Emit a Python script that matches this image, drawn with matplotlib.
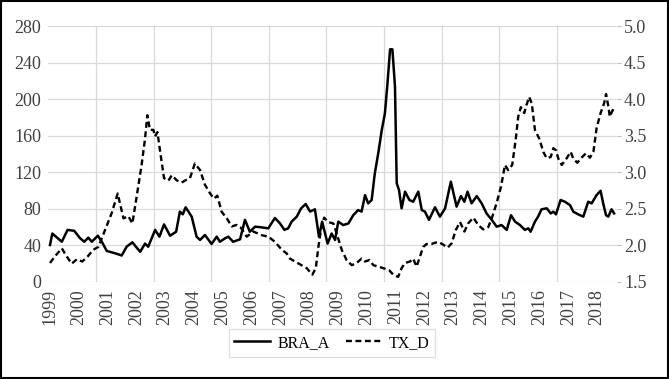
import matplotlib.pyplot as plt
from matplotlib.patches import Rectangle
import numpy as np

# Data (fractional years)
bra_years = [1999.00, 1999.08, 1999.41, 1999.61, 1999.84, 2000.04, 2000.19, 2000.33, 2000.45,
             2000.66, 2000.80, 2000.97, 2001.26, 2001.49, 2001.66, 2001.86, 2002.13, 2002.30,
             2002.41, 2002.65, 2002.80, 2002.96, 2003.17, 2003.38, 2003.51, 2003.61, 2003.71,
             2003.92, 2004.09, 2004.21, 2004.38, 2004.61, 2004.79, 2004.90, 2005.08, 2005.19,
             2005.36, 2005.60, 2005.77, 2005.94, 2006.12, 2006.29, 2006.58, 2006.81, 2006.99,
             2007.14, 2007.27, 2007.39, 2007.57, 2007.72, 2007.88, 2008.03, 2008.20, 2008.34,
             2008.45, 2008.64, 2008.78, 2008.90, 2009.01, 2009.18, 2009.36, 2009.53, 2009.70,
             2009.82, 2009.94, 2010.05, 2010.17, 2010.28, 2010.40, 2010.52, 2010.63, 2010.71,
             2010.81, 2010.89, 2010.98, 2011.04, 2011.12, 2011.21, 2011.33, 2011.48, 2011.61,
             2011.79, 2011.91, 2012.02, 2012.16, 2012.37, 2012.54, 2012.72, 2012.92, 2013.12,
             2013.27, 2013.39, 2013.50, 2013.64, 2013.82, 2013.99, 2014.16, 2014.34, 2014.51,
             2014.68, 2014.86, 2015.01, 2015.15, 2015.32, 2015.49, 2015.61, 2015.69, 2015.84,
             2015.95, 2016.07, 2016.25, 2016.39, 2016.48, 2016.57, 2016.73, 2016.88, 2017.06,
             2017.17, 2017.34, 2017.52, 2017.69, 2017.81, 2017.98, 2018.12, 2018.21, 2018.31,
             2018.39, 2018.50, 2018.59]
bra_a = [40.5, 53, 44, 57, 56, 48, 44, 48.5, 44,
         50.6, 44, 34, 31.4, 29, 38.6, 43.4, 33, 42,
         38.6, 57, 49.6, 63, 50.6, 55, 77, 74, 81.7,
         71.5, 49.6, 46, 51.4, 41.6, 49.6, 44, 47.8, 49.6,
         44, 46.7, 68, 55, 60.5, 60, 58.7, 70, 64,
         57, 58.7, 66, 71.5, 80.6, 85.3, 77, 79.5, 49.6,
         66, 42, 53, 46, 66, 62.3, 64, 73, 78.7,
         77, 95, 86, 89.7, 119, 141, 166, 184.5, 213.6,
         254.5, 254.5, 213.6, 108, 100.6, 80.6, 98.8, 89.7, 87.8,
         98.8, 78.7, 77, 68, 81.7, 71.5, 80.6, 109.7, 82.4,
         94, 87.8, 98.8, 86, 94, 86, 75, 68, 60.5,
         62.3, 57, 73, 66, 62.3, 57, 58.7, 55, 66,
         71.5, 79.5, 80.6, 75, 77, 74, 89.7, 87.8, 84,
         77, 74, 71.5, 87.8, 86, 95, 99.8, 86, 73,
         71.5, 79.5, 75]

tx_years = [1999.00, 1999.17, 1999.41, 1999.58, 1999.75, 1999.93, 2000.12, 2000.31, 2000.50,
            2000.68, 2000.91, 2001.14, 2001.35, 2001.55, 2001.72, 2001.86, 2002.01, 2002.18,
            2002.30, 2002.38, 2002.47, 2002.59, 2002.65, 2002.73, 2002.84, 2002.96, 2003.11,
            2003.23, 2003.40, 2003.57, 2003.75, 2003.86, 2004.03, 2004.21, 2004.38, 2004.56,
            2004.69, 2004.81, 2004.96, 2005.14, 2005.31, 2005.48, 2005.63, 2005.83, 2006.06,
            2006.35, 2006.58, 2006.81, 2007.05, 2007.22, 2007.33, 2007.51, 2007.74, 2007.91,
            2008.11, 2008.23, 2008.32, 2008.41, 2008.52, 2008.66, 2008.84, 2008.95, 2009.13,
            2009.30, 2009.48, 2009.65, 2009.82, 2009.94, 2010.09, 2010.23, 2010.40, 2010.57,
            2010.78, 2010.92, 2011.09, 2011.21, 2011.33, 2011.50, 2011.61, 2011.73, 2011.85,
            2011.96, 2012.08, 2012.25, 2012.48, 2012.66, 2012.81, 2012.95, 2013.09, 2013.24,
            2013.39, 2013.52, 2013.70, 2013.87, 2014.04, 2014.22, 2014.34, 2014.51, 2014.66,
            2014.80, 2014.91, 2015.05, 2015.17, 2015.26, 2015.35, 2015.47, 2015.53, 2015.64,
            2015.73, 2015.84, 2015.99, 2016.13, 2016.25, 2016.39, 2016.48, 2016.57, 2016.65,
            2016.77, 2016.94, 2017.08, 2017.17, 2017.31, 2017.46, 2017.61, 2017.75, 2017.87,
            2017.98, 2018.12, 2018.24, 2018.31, 2018.39, 2018.44, 2018.54, 2018.60]
tx_d = [1.76, 1.85, 1.96, 1.85, 1.75, 1.81, 1.78, 1.85, 1.94,
        1.98, 2.21, 2.44, 2.71, 2.37, 2.40, 2.30, 2.67, 3.10,
        3.46, 3.78, 3.58, 3.58, 3.49, 3.55, 3.24, 2.92, 2.885,
        2.96, 2.89, 2.86, 2.90, 2.92, 3.12, 3.03, 2.83, 2.71,
        2.64, 2.68, 2.46, 2.37, 2.26, 2.28, 2.24, 2.12, 2.19,
        2.14, 2.12, 2.05, 1.94, 1.89, 1.82, 1.78, 1.73, 1.69,
        1.60, 1.69, 1.98, 2.21, 2.38, 2.32, 2.30, 2.17, 1.94,
        1.80, 1.73, 1.76, 1.82, 1.78, 1.80, 1.73, 1.71, 1.69,
        1.66, 1.60, 1.57, 1.69, 1.76, 1.78, 1.82, 1.71, 1.85,
        1.98, 2.02, 2.02, 2.05, 2.01, 1.97, 2.03, 2.21, 2.32,
        2.19, 2.30, 2.38, 2.28, 2.22, 2.25, 2.37, 2.58, 2.80,
        3.10, 3.03, 3.10, 3.44, 3.76, 3.89, 3.81, 3.90, 4.03,
        3.94, 3.58, 3.46, 3.28, 3.19, 3.21, 3.33, 3.30, 3.19,
        3.10, 3.19, 3.28, 3.19, 3.13, 3.20, 3.26, 3.20, 3.28,
        3.60, 3.81, 3.94, 4.07, 3.90, 3.76, 3.85, 3.83]

year_labels = [str(y) for y in range(1999, 2019)]

plt.rcParams['font.family'] = ['Liberation Serif', 'DejaVu Serif']

fig = plt.figure(figsize=(6.69, 3.79), dpi=100)
ax = fig.add_axes([48 / 669, 1 - 282 / 379, (617 - 48) / 669, 256 / 379])
ax2 = ax.twinx()

l1, = ax.plot(bra_years, bra_a, color='black', lw=1.8, label='BRA_A', zorder=3)
l2, = ax2.plot(tx_years, tx_d, color='black', lw=1.7, dashes=(2.5, 1.5), label='TX_D')

ax.set_xlim(1998.93, 2018.69)
ax.set_ylim(0, 280)
ax2.set_ylim(1.5, 5.0)
ax.set_yticks(np.arange(0, 281, 40))
ax2.set_yticks(np.arange(1.5, 5.01, 0.5))
ax2.set_yticklabels([f'{v:.1f}' for v in np.arange(1.5, 5.01, 0.5)])

ax.set_xticks(range(1999, 2019))
ax.set_xticklabels(year_labels, rotation=90)
ax.set_xticks(np.arange(2000.6, 2017, 2.0), minor=True)

ax.grid(axis='y', color='#d9d9d9', lw=0.9)
ax.grid(axis='x', which='minor', color='#d9d9d9', lw=0.9)
ax.set_axisbelow(True)

for a in (ax, ax2):
    for s in a.spines.values():
        s.set_visible(False)

ax.tick_params(axis='x', which='both', length=0, labelsize=13, colors='#404040', pad=5)
ax.tick_params(axis='y', length=0, labelsize=13, colors='#404040', pad=5)
ax2.tick_params(axis='y', length=3, color='#bfbfbf', labelsize=13, labelcolor='#404040', pad=2)

fig.legend(handles=[l1, l2], loc='center', bbox_to_anchor=(332 / 669, 1 - 343 / 379),
           ncol=2, frameon=True, fancybox=False, edgecolor='#d9d9d9', fontsize=11.5,
           handlelength=2.2, columnspacing=1.0, handletextpad=0.5, borderpad=0.35)

fig.add_artist(Rectangle((0.002, 0.003), 0.996, 0.994, transform=fig.transFigure,
                         fill=False, edgecolor='black', lw=1.5))

fig.savefig('out.png', dpi=100)
